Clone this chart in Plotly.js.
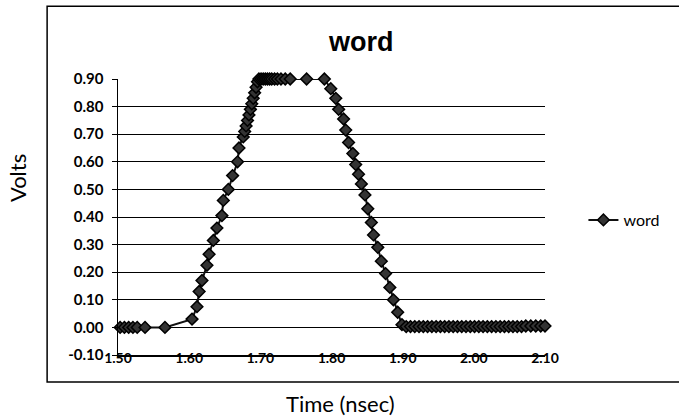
<!DOCTYPE html>
<html>
<head>
<meta charset="utf-8">
<script src="https://cdn.plot.ly/plotly-3.0.1.min.js"></script>
<style>html,body{margin:0;padding:0;background:#fff;}#chart{width:679px;height:416px;}</style>
</head>
<body>
<div id="chart"></div>
<script>
// Time (nsec)
const timeNs = [
  1.503, 1.509, 1.515, 1.521, 1.527, 1.538, 1.566,
  1.604, 1.611, 1.614, 1.618, 1.625, 1.628, 1.634, 1.639, 1.646,
  1.648, 1.655, 1.661, 1.668, 1.670, 1.676,
  1.678, 1.680, 1.682, 1.684, 1.686, 1.688, 1.690, 1.692, 1.694, 1.696, 1.698,
  1.701, 1.704, 1.707, 1.710, 1.713, 1.716, 1.720, 1.724, 1.729, 1.735, 1.742, 1.765, 1.790,
  1.799, 1.806, 1.810, 1.817, 1.820, 1.824, 1.830, 1.834, 1.838, 1.842, 1.847,
  1.851, 1.856, 1.859, 1.865, 1.870, 1.876, 1.882, 1.887, 1.893, 1.899,
  1.905, 1.911, 1.917, 1.923, 1.929, 1.935, 1.941, 1.947, 1.953, 1.959, 1.965,
  1.971, 1.977, 1.983, 1.989, 1.995, 2.001, 2.007, 2.013, 2.019, 2.025, 2.031,
  2.037, 2.043, 2.049, 2.055, 2.061, 2.067, 2.073, 2.080, 2.087, 2.094, 2.100
];
// word (Volts)
const wordVolts = [
  0.000, 0.000, 0.000, 0.000, 0.000, 0.000, 0.000,
  0.030, 0.075, 0.130, 0.170, 0.225, 0.265, 0.315, 0.360, 0.405,
  0.460, 0.500, 0.550, 0.600, 0.650, 0.690,
  0.710, 0.730, 0.750, 0.770, 0.790, 0.810, 0.830, 0.850, 0.870, 0.890, 0.900,
  0.900, 0.900, 0.900, 0.900, 0.900, 0.900, 0.900, 0.900, 0.900, 0.900, 0.900, 0.900, 0.900,
  0.865, 0.830, 0.790, 0.755, 0.715, 0.670, 0.630, 0.590, 0.555, 0.520, 0.480,
  0.430, 0.380, 0.335, 0.290, 0.240, 0.195, 0.145, 0.100, 0.055, 0.010,
  0.003, 0.003, 0.003, 0.003, 0.003, 0.003, 0.003, 0.003, 0.003, 0.003, 0.003,
  0.003, 0.003, 0.003, 0.003, 0.003, 0.003, 0.003, 0.003, 0.003, 0.003, 0.003,
  0.003, 0.003, 0.003, 0.003, 0.003, 0.003, 0.005, 0.005, 0.005, 0.005, 0.005
];
const xTicks = [1.5, 1.6, 1.7, 1.8, 1.9, 2.0, 2.1];
const xTickLabels = ["1.50", "1.60", "1.70", "1.80", "1.90", "2.00", "2.10"];
const yTicks = [-0.1, 0, 0.1, 0.2, 0.3, 0.4, 0.5, 0.6, 0.7, 0.8, 0.9];
const yTickLabels = ["-0.10", "0.00", "0.10", "0.20", "0.30", "0.40", "0.50", "0.60", "0.70", "0.80", "0.90"];

const trace = {
  x: timeNs, y: wordVolts, name: "word", type: "scatter", mode: "lines+markers",
  line: {color: "#111", width: 2},
  marker: {symbol: "diamond", size: 9, color: "#333", line: {color: "#000", width: 1.5}},
  cliponaxis: false
};

const layout = {
  width: 679, height: 416,
  margin: {l: 118, r: 134, t: 79, b: 61},
  paper_bgcolor: "#fff", plot_bgcolor: "#fff",
  font: {family: "Lato, 'DejaVu Sans', sans-serif", color: "#000"},
  title: {text: "<b>word</b>", font: {family: "'Liberation Sans', Arial, sans-serif", size: 27, color: "#000"},
          xref: "container", x: 0.532, xanchor: "center", yref: "container", y: 0.9, yanchor: "middle"},
  xaxis: {
    range: [1.5, 2.1], tickvals: xTicks, ticktext: xTickLabels,
    showgrid: false, zeroline: false, showline: true, linecolor: "#000", linewidth: 1.5,
    ticks: "", ticklabelstandoff: -10,
    tickfont: {family: "Lato, sans-serif", size: 14, weight: "bold", color: "#000"}
  },
  yaxis: {
    range: [-0.1, 0.9], tickvals: yTicks, ticktext: yTickLabels,
    showgrid: true, gridcolor: "#000", gridwidth: 1, zeroline: false,
    showline: true, linecolor: "#000", linewidth: 1.5,
    ticks: "outside", ticklen: 5, tickcolor: "#000", ticklabelstandoff: 5,
    tickfont: {family: "Lato, sans-serif", size: 15, weight: "bold", color: "#000"}
  },
  annotations: [
    {text: "Volts", xref: "paper", yref: "paper", x: -0.2365, y: 0.641, xanchor: "center", yanchor: "middle",
     textangle: -90, showarrow: false, font: {family: "Lato, sans-serif", size: 22, color: "#000"}},
    {text: "Time (nsec)", xref: "paper", yref: "paper", x: 0.52, y: -0.174, xanchor: "center", yanchor: "middle",
     showarrow: false, font: {family: "Lato, sans-serif", size: 22, color: "#000"}}
  ],
  showlegend: true,
  legend: {x: 1.09, xanchor: "left", y: 0.489, yanchor: "middle", bgcolor: "rgba(0,0,0,0)",
           font: {family: "Lato, sans-serif", size: 16, color: "#000"}},
  shapes: [{type: "rect", xref: "paper", yref: "paper", x0: -0.166, x1: 1.32, y0: -0.098, y1: 1.264,
            line: {color: "#000", width: 1.5}, fillcolor: "rgba(0,0,0,0)", layer: "below"}]
};

Plotly.newPlot("chart", [trace], layout, {displayModeBar: false, staticPlot: true});
</script>
</body>
</html>
